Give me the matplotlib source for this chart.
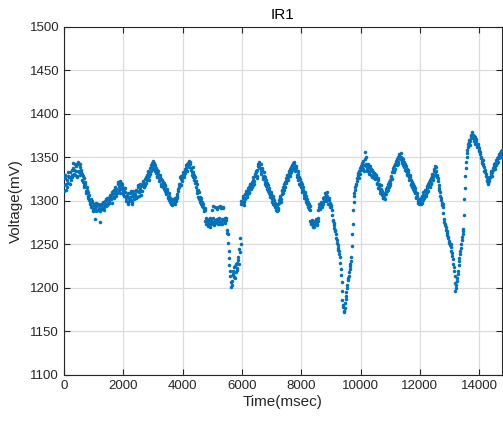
import numpy as np
import matplotlib
matplotlib.use('Agg')
import matplotlib.pyplot as plt

plt.rcParams['font.family'] = ['Liberation Sans', 'DejaVu Sans']

# the logger interleaves two readings: one on the 30 ms grid, one 15 ms after it
step_ms = 30
offset_ms = 15

# voltage readings (mV), one chunk per 3000 msec, first reading of each slot
volt_0 = [
    1318, 1326, 1313, 1324, 1329, 1321, 1327, 1333, 1324, 1330,
    1338, 1331, 1343, 1334, 1340, 1329, 1342, 1335, 1339, 1333,
    1331, 1322, 1326, 1316, 1319, 1309, 1313, 1304, 1307, 1299,
    1302, 1294, 1299, 1291, 1297, 1279, 1294, 1290, 1296, 1292,
    1276, 1290, 1295, 1292, 1298, 1293, 1297, 1302, 1295, 1300,
    1304, 1298, 1307, 1302, 1310, 1305, 1313, 1308, 1306, 1314,
    1310, 1319, 1316, 1323, 1314, 1320, 1311, 1315, 1306, 1310,
    1300, 1305, 1297, 1303, 1309, 1301, 1306, 1299, 1311, 1304,
    1308, 1313, 1305, 1316, 1310, 1320, 1312, 1307, 1318, 1322,
    1316, 1325, 1321, 1330, 1327, 1333, 1324, 1338, 1335, 1344,
]
volt_3000 = [
    1346, 1337, 1341, 1332, 1336, 1328, 1331, 1323, 1327, 1320,
    1324, 1316, 1321, 1311, 1317, 1308, 1312, 1303, 1306, 1299,
    1297, 1302, 1296, 1300, 1298, 1303, 1300, 1306, 1311, 1316,
    1320, 1325, 1329, 1323, 1333, 1328, 1337, 1341, 1335, 1344,
    1346, 1339, 1343, 1336, 1330, 1333, 1324, 1327, 1316, 1320,
    1309, 1313, 1302, 1305, 1296, 1299, 1293, 1291, 1290, 1277,
    1274, 1279, 1271, 1277, 1280, 1273, 1290, 1276, 1294, 1272,
    1293, 1278, 1275, 1293, 1280, 1294, 1276, 1292, 1274, 1293,
    1279, 1277, 1280, 1267, 1262, 1242, 1226, 1214, 1201, 1208,
    1220, 1213, 1225, 1218, 1229, 1223, 1236, 1245, 1257, 1297,
]
volt_6000 = [
    1297, 1303, 1299, 1308, 1304, 1311, 1307, 1315, 1310, 1318,
    1314, 1322, 1318, 1327, 1323, 1331, 1335, 1329, 1340, 1345,
    1338, 1342, 1331, 1336, 1325, 1329, 1320, 1324, 1314, 1318,
    1309, 1313, 1305, 1308, 1299, 1303, 1295, 1298, 1290, 1293,
    1296, 1292, 1301, 1306, 1302, 1311, 1316, 1313, 1322, 1326,
    1321, 1330, 1327, 1335, 1331, 1339, 1336, 1344, 1340, 1342,
    1334, 1338, 1327, 1331, 1320, 1325, 1316, 1319, 1310, 1313,
    1304, 1308, 1299, 1302, 1293, 1296, 1290, 1277, 1273, 1278,
    1271, 1276, 1274, 1279, 1272, 1277, 1290, 1296, 1292, 1299,
    1295, 1303, 1300, 1309, 1304, 1300, 1306, 1297, 1301, 1293,
]
volt_9000 = [
    1295, 1290, 1278, 1275, 1269, 1265, 1258, 1252, 1246, 1242,
    1236, 1222, 1207, 1186, 1178, 1172, 1183, 1191, 1200, 1209,
    1214, 1222, 1228, 1236, 1262, 1290, 1306, 1313, 1318, 1323,
    1327, 1330, 1335, 1331, 1340, 1344, 1337, 1341, 1356, 1351,
    1340, 1335, 1342, 1333, 1338, 1330, 1336, 1327, 1332, 1329,
    1325, 1330, 1321, 1326, 1317, 1313, 1318, 1307, 1310, 1303,
    1305, 1309, 1314, 1311, 1319, 1316, 1324, 1321, 1329, 1333,
    1338, 1335, 1342, 1346, 1341, 1350, 1345, 1354, 1348, 1351,
    1344, 1348, 1339, 1343, 1334, 1337, 1330, 1333, 1324, 1327,
    1318, 1322, 1314, 1317, 1309, 1312, 1303, 1306, 1298, 1296,
]
volt_12000 = [
    1302, 1297, 1306, 1301, 1310, 1305, 1313, 1308, 1317, 1312,
    1322, 1316, 1326, 1320, 1331, 1327, 1337, 1333, 1339, 1330,
    1323, 1318, 1313, 1306, 1301, 1295, 1293, 1279, 1274, 1270,
    1265, 1261, 1257, 1252, 1249, 1247, 1240, 1233, 1224, 1214,
    1197, 1204, 1212, 1220, 1231, 1239, 1246, 1255, 1262, 1268,
    1302, 1329, 1345, 1355, 1362, 1368, 1364, 1372, 1376, 1379,
    1372, 1375, 1368, 1371, 1364, 1366, 1359, 1361, 1354, 1349,
    1344, 1347, 1339, 1336, 1331, 1327, 1323, 1320, 1325, 1328,
    1332, 1329, 1336, 1340, 1337, 1344, 1341, 1348, 1345, 1352,
    1355, 1350, 1359,
]

# second reading of each slot (15 ms later)
volt_0_b = [
    1312, 1330, 1320, 1316, 1333, 1327, 1320, 1328, 1336, 1327,
    1344, 1336, 1330, 1341, 1328, 1345, 1333, 1330, 1342, 1336,
    1324, 1329, 1318, 1322, 1312, 1316, 1306, 1310, 1301, 1296,
    1293, 1300, 1288, 1295, 1292, 1298, 1289, 1296, 1290, 1295,
    1288, 1297, 1291, 1299, 1290, 1296, 1300, 1294, 1303, 1297,
    1300, 1306, 1303, 1298, 1308, 1311, 1304, 1316, 1310, 1309,
    1322, 1313, 1318, 1309, 1321, 1317, 1308, 1312, 1315, 1303,
    1307, 1298, 1309, 1300, 1305, 1312, 1296, 1308, 1302, 1307,
    1311, 1303, 1312, 1318, 1306, 1314, 1317, 1311, 1323, 1316,
    1321, 1318, 1328, 1324, 1335, 1329, 1331, 1341, 1339, 1337,
]
volt_3000_b = [
    1340, 1344, 1335, 1338, 1329, 1334, 1326, 1330, 1317, 1325,
    1319, 1322, 1314, 1318, 1309, 1314, 1305, 1309, 1301, 1303,
    1300, 1295, 1299, 1302, 1296, 1301, 1308, 1303, 1314, 1319,
    1327, 1318, 1326, 1331, 1330, 1335, 1332, 1338, 1342, 1340,
    1341, 1345, 1338, 1333, 1339, 1328, 1330, 1321, 1323, 1313,
    1305, 1310, 1299, 1303, 1300, 1294, 1296, 1289, 1292, 1280,
    1277, 1272, 1276, 1274, 1270, 1278, 1275, 1281, 1273, 1278,
    1276, 1291, 1279, 1273, 1277, 1274, 1293, 1279, 1292, 1277,
    1275, 1281, 1278, 1263, 1252, 1234, 1219, 1207, 1204, 1215,
    1216, 1224, 1211, 1227, 1221, 1232, 1228, 1241, 1251, 1300,
]
volt_6000_b = [
    1300, 1306, 1295, 1302, 1309, 1305, 1313, 1309, 1316, 1320,
    1319, 1316, 1324, 1320, 1329, 1333, 1326, 1336, 1343, 1339,
    1343, 1335, 1338, 1328, 1333, 1322, 1327, 1317, 1321, 1311,
    1315, 1307, 1310, 1302, 1306, 1297, 1301, 1293, 1296, 1289,
    1290, 1298, 1304, 1299, 1308, 1313, 1309, 1319, 1316, 1323,
    1327, 1324, 1332, 1329, 1337, 1333, 1341, 1338, 1345, 1336,
    1340, 1330, 1334, 1324, 1328, 1318, 1322, 1313, 1316, 1307,
    1310, 1301, 1306, 1296, 1299, 1291, 1294, 1275, 1276, 1270,
    1274, 1270, 1277, 1275, 1274, 1281, 1293, 1291, 1297, 1293,
    1299, 1297, 1305, 1302, 1307, 1310, 1301, 1303, 1296, 1298,
]
volt_9000_b = [
    1293, 1284, 1277, 1272, 1267, 1262, 1255, 1249, 1244, 1239,
    1229, 1215, 1196, 1181, 1174, 1177, 1187, 1195, 1204, 1212,
    1218, 1225, 1231, 1248, 1274, 1299, 1309, 1316, 1320, 1326,
    1332, 1326, 1338, 1336, 1343, 1339, 1346, 1335, 1348, 1342,
    1337, 1339, 1331, 1340, 1334, 1337, 1328, 1333, 1326, 1331,
    1328, 1319, 1324, 1315, 1320, 1309, 1314, 1312, 1304, 1308,
    1302, 1312, 1308, 1316, 1313, 1322, 1318, 1327, 1325, 1336,
    1333, 1340, 1337, 1344, 1348, 1343, 1352, 1350, 1355, 1346,
    1349, 1341, 1345, 1336, 1340, 1331, 1336, 1327, 1330, 1320,
    1324, 1316, 1320, 1311, 1315, 1305, 1309, 1300, 1302, 1299,
]
volt_12000_b = [
    1299, 1304, 1298, 1307, 1303, 1311, 1306, 1315, 1310, 1319,
    1318, 1324, 1321, 1329, 1324, 1334, 1330, 1340, 1335, 1327,
    1326, 1315, 1310, 1303, 1298, 1297, 1286, 1276, 1272, 1267,
    1263, 1259, 1254, 1250, 1251, 1243, 1237, 1228, 1219, 1206,
    1200, 1208, 1216, 1226, 1235, 1243, 1251, 1259, 1265, 1284,
    1315, 1338, 1350, 1359, 1366, 1370, 1369, 1375, 1373, 1376,
    1369, 1373, 1365, 1369, 1362, 1363, 1357, 1356, 1351, 1346,
    1341, 1343, 1334, 1333, 1329, 1324, 1321, 1323, 1327, 1331,
    1335, 1333, 1338, 1343, 1340, 1347, 1344, 1350, 1349, 1354,
    1352, 1357,
]

x_ticks = [0, 2000, 4000, 6000, 8000, 10000, 12000, 14000]
y_ticks = [1100, 1150, 1200, 1250, 1300, 1350, 1400, 1450, 1500]

volt_a = np.array(volt_0 + volt_3000 + volt_6000 + volt_9000 + volt_12000)
volt_b = np.array(volt_0_b + volt_3000_b + volt_6000_b + volt_9000_b + volt_12000_b)
time_a = np.arange(len(volt_a)) * step_ms
time_b = np.arange(len(volt_b)) * step_ms + offset_ms

time_ms = np.concatenate([time_a, time_b])
voltage = np.concatenate([volt_a, volt_b])

matlab_blue = '#0072BD'
dark = '#262626'

fig = plt.figure(figsize=(5.03, 4.21), dpi=100)
ax = fig.add_axes([0.1272, 0.1093, 0.8708, 0.8266])

ax.scatter(time_ms, voltage, s=6.5, color=matlab_blue, linewidths=0, zorder=3)

ax.set_xlim(0, 14770)
ax.set_ylim(1100, 1500)
ax.set_xticks(x_ticks)
ax.set_yticks(y_ticks)
ax.grid(True, color='#dcdcdc', linewidth=0.9, zorder=0)
ax.set_axisbelow(True)

ax.tick_params(direction='in', length=4, width=0.8, colors=dark,
               labelsize=9.5, top=True, right=True)
for s in ax.spines.values():
    s.set_color(dark)
    s.set_linewidth(0.8)

ax.set_title('IR1', fontsize=11, color='black', pad=6)
ax.set_xlabel('Time(msec)', fontsize=11, color=dark, labelpad=2)
ax.set_ylabel('Voltage(mV)', fontsize=11, color=dark, labelpad=5)

fig.savefig('out.png', dpi=100)
